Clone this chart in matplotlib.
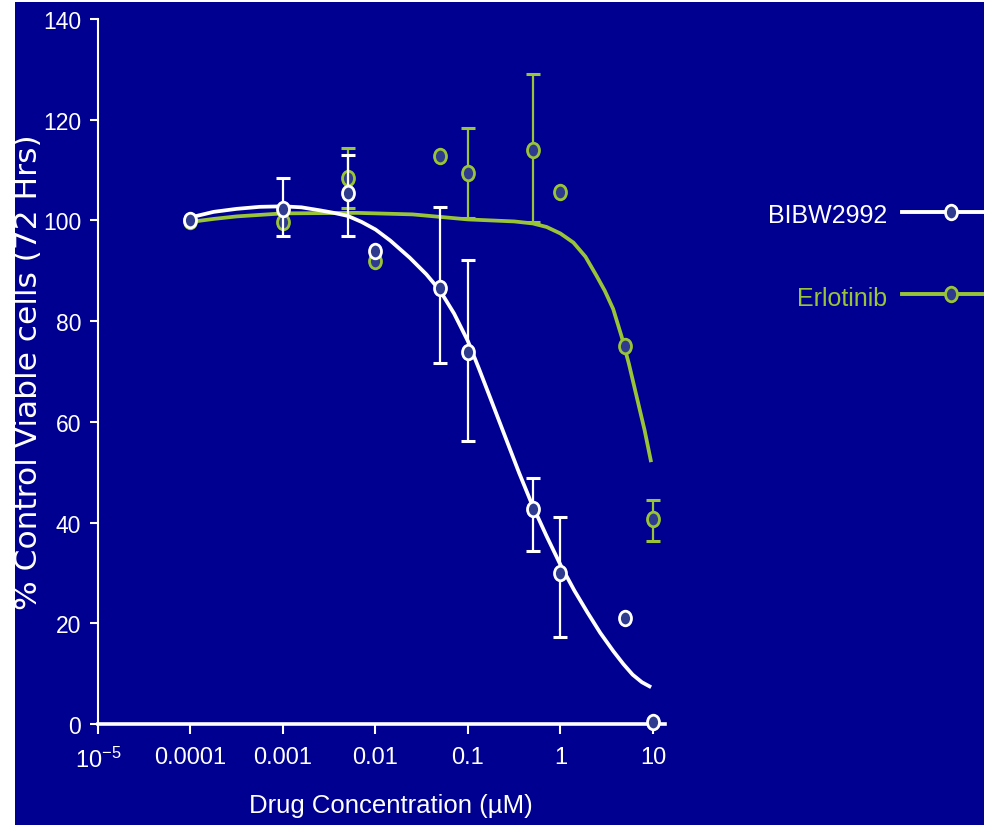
import numpy as np
import matplotlib
matplotlib.use("Agg")
import matplotlib.pyplot as plt
from matplotlib.patches import Rectangle
from matplotlib.lines import Line2D
from matplotlib.path import Path
from matplotlib.transforms import Affine2D
from matplotlib.markers import MarkerStyle
from matplotlib.ticker import NullLocator

nan = np.nan

# Drug concentrations (uM)
concentrations = [0.0001, 0.001, 0.005, 0.01, 0.05, 0.1, 0.5, 1, 5, 10]

# BIBW2992: mean % viable cells and error-bar ends
bibw_mean = [100.0, 102.2, 105.5, 94.0, 86.5, 73.9, 42.7, 29.9, 21.0, 0.3]
bibw_low = [nan, 96.9, 96.9, nan, 71.6, 56.1, 34.3, 17.3, nan, nan]
bibw_high = [nan, 108.4, 113.0, nan, 102.6, 92.1, 48.9, 41.2, nan, nan]

# Erlotinib: mean % viable cells and error-bar ends
erl_mean = [99.8, 99.7, 108.5, 91.9, 112.8, 109.4, 113.9, 105.6, 75.1, 40.7]
erl_low = [nan, nan, 102.4, nan, nan, 100.4, 99.6, nan, nan, 36.4]
erl_high = [nan, nan, 114.3, nan, nan, 118.4, 129.0, nan, nan, 44.4]

# Fitted dose-response curves (log10 concentration, % viable)
bibw_fit_logc = [-4.0, -3.75, -3.5, -3.25, -3.0, -2.8, -2.6, -2.45, -2.3, -2.15,
                 -2.0, -1.84, -1.63, -1.45, -1.3, -1.15, -1.0, -0.88, -0.76,
                 -0.58, -0.45, -0.31, -0.15, 0.0, 0.15, 0.29, 0.43, 0.57, 0.68,
                 0.78, 0.88, 0.98]
bibw_fit = [100.6, 101.7, 102.3, 102.7, 102.8, 102.6, 102.0, 101.5, 100.9, 99.7,
            98.2, 96.0, 92.6, 89.3, 86.0, 81.5, 76.0, 70.5, 64.8,
            56.2, 50.0, 43.7, 37.3, 31.6, 26.5, 22.2, 18.1, 14.5, 11.9,
            9.8, 8.3, 7.3]
erl_fit_logc = [-4.0, -3.75, -3.5, -3.0, -2.2, -1.6, -1.0, -0.5, -0.3, -0.15,
                0.0, 0.14, 0.27, 0.39, 0.48, 0.57, 0.66, 0.74, 0.83, 0.91, 0.98]
erl_fit = [99.7, 100.3, 100.8, 101.4, 101.5, 101.2, 100.2, 99.8, 99.4, 98.7,
           97.4, 95.6, 92.8, 89.0, 86.0, 82.4, 77.0, 71.5, 64.5, 58.3, 52.0]

xtick_values = [1e-5, 1e-4, 1e-3, 1e-2, 1e-1, 1, 10]
xtick_labels = [r"$\mathregular{10^{-5}}$", "0.0001", "0.001", "0.01", "0.1", "1", "10"]
ytick_values = [0, 20, 40, 60, 80, 100, 120, 140]

BG = "#000090"
FILL = "#2E3B8E"
WHITE = "#FFFFFF"
GREEN = "#9AC437"
SANS = ["Liberation Sans", "DejaVu Sans"]

plt.rcParams["mathtext.default"] = "regular"

W, H = 984, 828
fig = plt.figure(figsize=(W / 100, H / 100), dpi=100, facecolor="white")
fig.add_artist(Rectangle((15 / W, 2 / H), (W - 15) / W, (H - 5) / H,
                         transform=fig.transFigure, facecolor=BG,
                         edgecolor="none", zorder=-10))

ax = fig.add_axes([98 / W, (H - 725) / H, (665 - 98) / W, (725 - 20) / H])
ax.set_facecolor("none")
ax.set_xscale("log")
ax.set_xlim(1e-5, 10 ** 1.13)
ax.set_ylim(0, 140)

for side in ("top", "right"):
    ax.spines[side].set_visible(False)
ax.spines["left"].set_color(WHITE)
ax.spines["left"].set_linewidth(1.5)
ax.spines["bottom"].set_color(WHITE)
ax.spines["bottom"].set_linewidth(2.6)

ax.set_xticks(xtick_values)
ax.set_xticklabels(xtick_labels)
ax.xaxis.set_minor_locator(NullLocator())
ax.set_yticks(ytick_values)
ax.tick_params(axis="both", colors=WHITE, direction="out", width=1.5)
ax.tick_params(axis="x", length=7, pad=9)
ax.tick_params(axis="y", length=6, pad=6)
for lab in ax.get_xticklabels():
    lab.set_fontfamily(SANS)
    lab.set_fontsize(17)
for lab in ax.get_yticklabels():
    lab.set_fontfamily(SANS)
    lab.set_fontsize(16.5)

ax.set_xlabel("Drug Concentration (\u00b5M)", color=WHITE, fontsize=18.5,
              family=SANS, va="top")
ax.xaxis.set_label_coords(0.517, -0.098)
ax.set_ylabel("% Control Viable cells (72 Hrs)", color=WHITE, fontsize=22.5,
              family=["DejaVu Sans"], va="center")
ax.yaxis.set_label_coords(-0.122, 0.5)

# slightly tall open-circle marker
ellipse = MarkerStyle(Path.unit_circle().transformed(Affine2D().scale(0.82, 1.0)))


def draw_series(mean, low, high, fit_logc, fit, color, z):
    x = np.array(concentrations, dtype=float)
    m = np.array(mean, dtype=float)
    lo = np.array(low, dtype=float)
    hi = np.array(high, dtype=float)
    ok = ~np.isnan(lo)
    ax.errorbar(x[ok], m[ok], yerr=[m[ok] - lo[ok], hi[ok] - m[ok]], fmt="none",
                ecolor=color, elinewidth=1.6, capsize=4.8, capthick=2.2,
                zorder=z, clip_on=False)
    ax.plot(10 ** np.array(fit_logc), fit, color=color, lw=2.7,
            solid_capstyle="butt", solid_joinstyle="round", zorder=z + 1)
    ax.plot(x, m, linestyle="none", marker=ellipse, ms=10.5, mfc=FILL,
            mec=color, mew=2.0, zorder=z + 2, clip_on=False)


draw_series(erl_mean, erl_low, erl_high, erl_fit_logc, erl_fit, GREEN, 2)
draw_series(bibw_mean, bibw_low, bibw_high, bibw_fit_logc, bibw_fit, WHITE, 6)

# legend on the right, label left of its line sample
legend_items = [("BIBW2992", WHITE, 213, 223), ("Erlotinib", GREEN, 295, 306)]
for name, color, ly, base in legend_items:
    fig.text(887 / W, 1 - base / H, name, ha="right", va="baseline",
             color=color, fontsize=18, family=SANS)
    fig.add_artist(Line2D([902 / W, 951 / W, 1.05], [1 - ly / H] * 3,
                          transform=fig.transFigure, color=color, lw=2.8,
                          marker=ellipse, markevery=[1], ms=10.5, mfc=FILL,
                          mec=color, mew=2.0))

fig.savefig("out.png", dpi=100, facecolor="white")
